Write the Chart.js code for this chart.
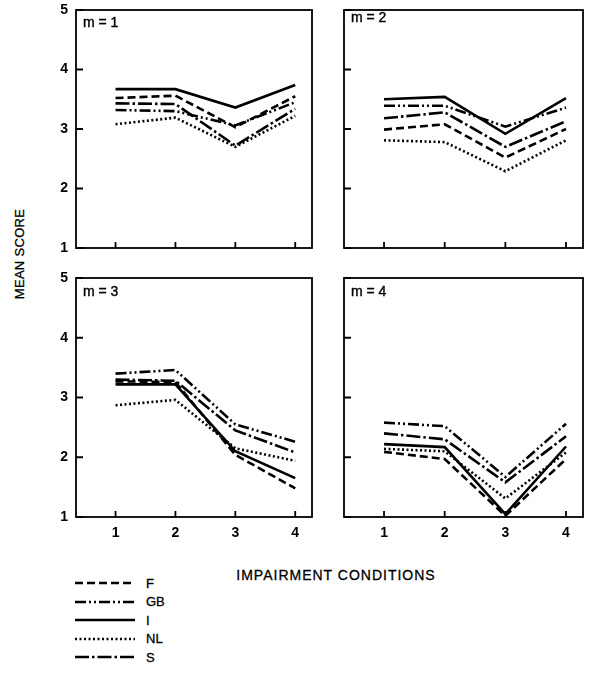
<!DOCTYPE html>
<html>
<head>
<meta charset="utf-8">
<script src="https://cdn.jsdelivr.net/npm/chart.js@4.4.0/dist/chart.umd.min.js"></script>
<style>
  body { margin: 0; background: #fff; font-family: 'Liberation Sans', Arial, sans-serif; color: #000; }
  #wrap { position: relative; width: 592px; height: 675px; overflow: hidden; }
  #wrap canvas { position: absolute; }
  .ytitle { position: absolute; left: 19px; top: 254px; transform: translate(-50%, -50%) rotate(-90deg);
            font-size: 13px; white-space: nowrap; letter-spacing: 0.3px; -webkit-text-stroke: 0.3px #000; }
  .xtitle { position: absolute; left: 336px; top: 575px; transform: translate(-50%, -50%);
            font-size: 14px; white-space: nowrap; letter-spacing: 1px; -webkit-text-stroke: 0.3px #000; }
  #legend { position: absolute; left: 75px; top: 574px; }
  #legend .row { display: flex; align-items: center; height: 18.5px; font-size: 13px; -webkit-text-stroke: 0.3px #000; }
  #legend svg { width: 62px; height: 6px; margin-right: 9px; }
</style>
</head>
<body>
<div id="wrap">
  <div class="ytitle">MEAN SCORE</div>
  <div class="xtitle">IMPAIRMENT CONDITIONS</div>
  <div id="legend"></div>
</div>
<script>
// impairment conditions and score axis
const conditions = [1, 2, 3, 4];
const scoreTicks = [1, 2, 3, 4, 5];
const countries = ['F', 'GB', 'I', 'NL', 'S'];
const panelLabels = ['m = 1', 'm = 2', 'm = 3', 'm = 4'];

// mean scores per country, one list per panel (m)
const m1 = {
  F:  [3.52, 3.56, 3.03, 3.55],
  GB: [3.32, 3.30, 3.06, 3.45],
  I:  [3.67, 3.67, 3.36, 3.74],
  NL: [3.08, 3.19, 2.70, 3.22],
  S:  [3.43, 3.42, 2.72, 3.34],
};
const m2 = {
  F:  [2.99, 3.08, 2.52, 3.00],
  GB: [3.39, 3.39, 3.04, 3.36],
  I:  [3.50, 3.54, 2.92, 3.52],
  NL: [2.81, 2.78, 2.29, 2.81],
  S:  [3.18, 3.28, 2.70, 3.13],
};
const m3 = {
  F:  [3.27, 3.26, 2.04, 1.48],
  GB: [3.40, 3.46, 2.55, 2.26],
  I:  [3.22, 3.22, 2.10, 1.65],
  NL: [2.87, 2.96, 2.15, 1.94],
  S:  [3.30, 3.28, 2.45, 2.08],
};
const m4 = {
  F:  [2.09, 1.97, 1.02, 1.97],
  GB: [2.58, 2.52, 1.67, 2.56],
  I:  [2.22, 2.17, 1.05, 2.18],
  NL: [2.14, 2.10, 1.31, 2.08],
  S:  [2.40, 2.30, 1.58, 2.35],
};
const panels = [m1, m2, m3, m4];

// line styles
const dashes = { F: [8, 4], GB: [11, 3, 2, 3, 2, 3], I: [], NL: [2, 2.5], S: [14, 3, 2.5, 3] };

// plot boxes in page pixels (labelDy = offset of the m label from the top edge)
const boxes = [
  { left: 76, top: 10, w: 236, h: 238, labelDy: 13 },
  { left: 344, top: 10, w: 239, h: 238, labelDy: 8 },
  { left: 76, top: 278, w: 236, h: 239, labelDy: 14 },
  { left: 344, top: 278, w: 239, h: 239, labelDy: 14 },
];
const PAD = 10, YW = 30, XH = 28;
const tickFont = { family: "'Liberation Sans', Arial, sans-serif", size: 14, weight: 'bold' };

const framePlugin = {
  id: 'frame',
  afterDatasetsDraw(chart, args, opts) {
    const { ctx, chartArea: a, scales: { x, y } } = chart;
    ctx.save();
    ctx.strokeStyle = '#000';
    ctx.lineWidth = 1.8;
    ctx.strokeRect(a.left, a.top, a.right - a.left, a.bottom - a.top);
    ctx.beginPath();
    conditions.forEach(v => {
      const px = x.getPixelForValue(v);
      ctx.moveTo(px, a.bottom);
      ctx.lineTo(px, a.bottom - 6);
    });
    scoreTicks.forEach(v => {
      const py = y.getPixelForValue(v);
      ctx.moveTo(a.left, py);
      ctx.lineTo(a.left + 7, py);
    });
    ctx.stroke();
    ctx.fillStyle = '#000';
    ctx.strokeStyle = '#000';
    ctx.lineWidth = 0.4;
    ctx.font = "14px 'Liberation Sans', Arial, sans-serif";
    ctx.textBaseline = 'middle';
    ctx.fillText(opts.label, a.left + 7, a.top + opts.dy);
    ctx.strokeText(opts.label, a.left + 7, a.top + opts.dy);
    ctx.restore();
  }
};

const wrap = document.getElementById('wrap');

panels.forEach((data, i) => {
  const b = boxes[i];
  const showY = i % 2 === 0;
  const showX = i >= 2;
  const yw = showY ? YW : 0;
  const xh = showX ? XH : 0;
  const canvas = document.createElement('canvas');
  canvas.width = PAD + yw + b.w + PAD;
  canvas.height = PAD + b.h + xh + PAD;
  canvas.style.left = (b.left - PAD - yw) + 'px';
  canvas.style.top = (b.top - PAD) + 'px';
  wrap.appendChild(canvas);

  new Chart(canvas, {
    type: 'line',
    data: {
      datasets: countries.map(c => ({
        label: c,
        data: conditions.map((x, k) => ({ x, y: data[c][k] })),
        borderColor: '#000',
        borderWidth: 2.6,
        borderDash: dashes[c],
        pointRadius: 0,
        tension: 0,
        fill: false,
      })),
    },
    options: {
      responsive: false,
      animation: false,
      layout: { padding: PAD },
      plugins: {
        legend: { display: false },
        tooltip: { enabled: false },
        frame: { label: panelLabels[i], dy: b.labelDy },
      },
      scales: {
        x: {
          type: 'linear',
          min: 0.34,
          max: 4.28,
          afterBuildTicks: s => { s.ticks = conditions.map(v => ({ value: v })); },
          afterFit: s => { s.height = xh; s.paddingLeft = s.paddingRight = 0; },
          ticks: { display: showX, padding: 8, color: '#000', font: tickFont },
          grid: { display: false, drawTicks: false },
          border: { display: false },
        },
        y: {
          min: 1,
          max: 5,
          afterBuildTicks: s => { s.ticks = scoreTicks.map(v => ({ value: v })); },
          afterFit: s => { s.width = yw; s.paddingTop = s.paddingBottom = 0; },
          ticks: { display: showY, padding: 8, color: '#000', font: tickFont },
          grid: { display: false, drawTicks: false },
          border: { display: false },
        },
      },
    },
    plugins: [framePlugin],
  });
});

// legend
const legend = document.getElementById('legend');
countries.forEach(c => {
  const row = document.createElement('div');
  row.className = 'row';
  row.innerHTML = `<svg viewBox="0 0 62 6"><line x1="0" y1="3" x2="60" y2="3" stroke="#000" stroke-width="2.4"
    stroke-dasharray="${dashes[c].join(' ')}"/></svg><span>${c}</span>`;
  legend.appendChild(row);
});
</script>
</body>
</html>
